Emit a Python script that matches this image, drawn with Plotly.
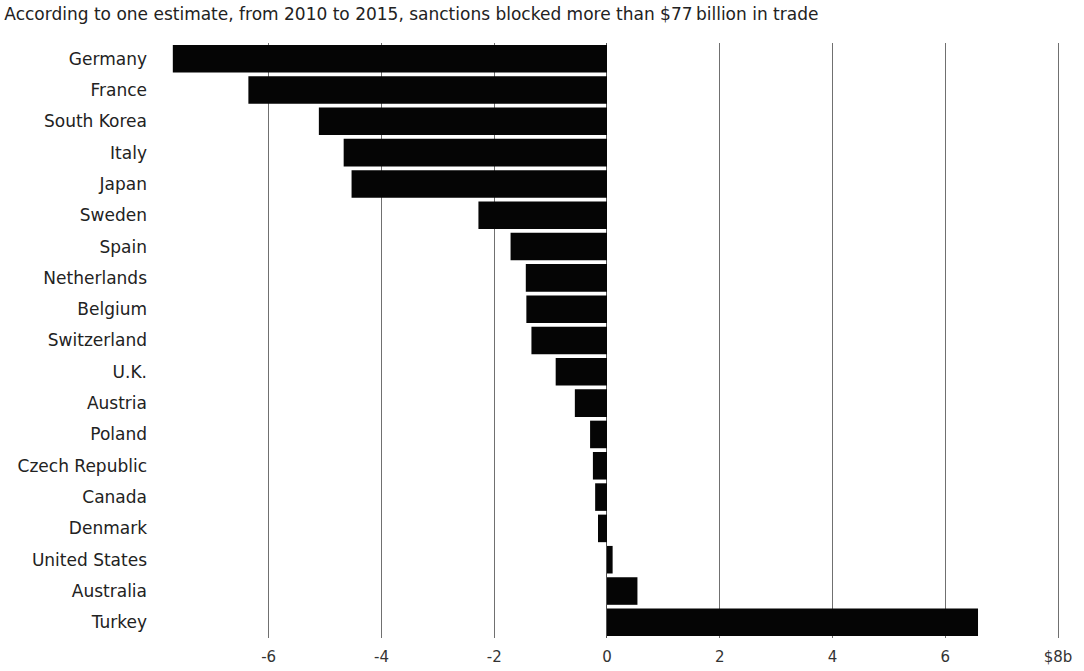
import plotly.graph_objects as go

countries = ["Germany", "France", "South Korea", "Italy", "Japan", "Sweden", "Spain",
             "Netherlands", "Belgium", "Switzerland", "U.K.", "Austria", "Poland",
             "Czech Republic", "Canada", "Denmark", "United States", "Australia", "Turkey"]
values = [-7.7, -6.36, -5.11, -4.67, -4.53, -2.28, -1.71, -1.44, -1.43, -1.34, -0.91,
          -0.57, -0.30, -0.25, -0.21, -0.16, 0.10, 0.54, 6.58]
tick_vals = [-6, -4, -2, 0, 2, 4, 6, 8]
tick_text = ["-6", "-4", "-2", "0", "2", "4", "6", "$8b"]
title_text = "According to one estimate, from 2010 to 2015, sanctions blocked more than $77\u2009billion in trade"

FONT = "DejaVu Sans, Verdana, sans-serif"

fig = go.Figure(go.Bar(
    x=values, y=countries, orientation="h",
    marker=dict(color="#050505", line=dict(width=0)),
))

fig.update_layout(
    width=1084, height=671,
    margin=dict(l=170, r=9, t=43, b=33),
    paper_bgcolor="white", plot_bgcolor="white",
    bargap=0.12,
    showlegend=False,
    font=dict(family=FONT, color="#222"),
    title=dict(text=title_text, x=0.004, xanchor="left", y=0.979, yanchor="middle",
               font=dict(size=17, color="#222", family=FONT)),
    xaxis=dict(range=[-7.75, 8.3], tickvals=tick_vals, ticktext=tick_text,
               showgrid=True, gridcolor="#707070", gridwidth=1.3,
               zeroline=True, zerolinecolor="#505050", zerolinewidth=1.3,
               showline=False, ticks="", ticklabelstandoff=8, automargin=False,
               tickfont=dict(size=15, color="#333", family=FONT),
               fixedrange=True),
    yaxis=dict(autorange="reversed", showgrid=False, zeroline=False, showline=False,
               ticks="", ticklabelstandoff=22, automargin=False,
               tickfont=dict(size=17, color="#222", family=FONT),
               fixedrange=True),
)

fig.write_html("out.html")
